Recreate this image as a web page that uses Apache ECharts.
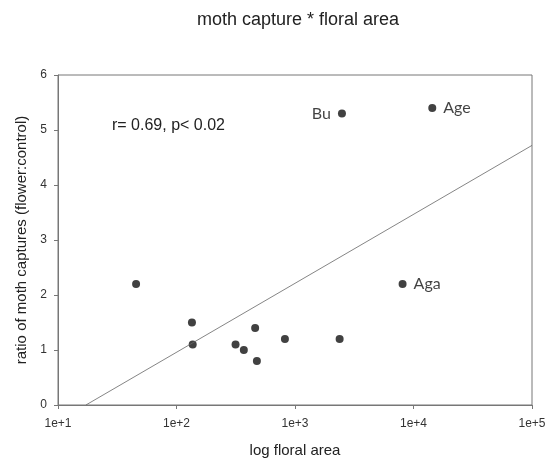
<!DOCTYPE html>
<html>
<head>
<meta charset="utf-8">
<script src="https://cdn.jsdelivr.net/npm/echarts@6/dist/echarts.min.js"></script>
<style>html,body{margin:0;padding:0;background:#fff}#c{width:557px;height:463px}</style>
</head>
<body>
<div id="c"></div>
<script>
const areas = [45.6, 135, 137, 315, 370, 461, 477, 822, 2380, 8090, 2490, 14400];
const ratios = [2.2, 1.5, 1.1, 1.1, 1.0, 1.4, 0.8, 1.2, 1.2, 2.2, 5.3, 5.4];
const names = ['', '', '', '', '', '', '', '', '', 'Aga', 'Bu', 'Age'];
const fitX = [17.2, 100000];
const fitY = [0, 4.72];
const yTicks = [0, 1, 2, 3, 4, 5, 6];

const chart = echarts.init(document.getElementById('c'));
const pts = areas.map((a, i) => ({
  value: [a, ratios[i]],
  label: {
    show: names[i] !== '',
    formatter: names[i],
    position: names[i] === 'Bu' ? 'left' : 'right',
    distance: 7,
    fontFamily: 'Lato',
    fontSize: 16,
    color: '#111'
  }
}));
chart.setOption({
  animation: false,
  title: {
    text: 'moth capture * floral area',
    left: 293, top: 6, textAlign: 'center',
    textStyle: {fontFamily: 'Liberation Sans', fontSize: 18, fontWeight: 'normal', color: '#222'}
  },
  graphic: [{
    type: 'text', left: 112, top: 118,
    style: {text: 'r= 0.69, p< 0.02', font: '16px "Liberation Sans"', fill: '#222'}
  }],
  grid: {left: 58, right: 25, top: 75, bottom: 57, show: true, borderColor: '#777', borderWidth: 1},
  xAxis: {
    type: 'log', logBase: 10, min: 10, max: 100000,
    name: 'log floral area', nameLocation: 'middle', nameGap: 38,
    nameTextStyle: {fontFamily: 'Liberation Sans', fontSize: 15, color: '#222'},
    axisLine: {lineStyle: {color: '#777'}},
    axisTick: {show: true, length: 4, lineStyle: {color: '#777'}},
    minorTick: {show: false},
    splitLine: {show: false},
    axisLabel: {
      fontFamily: 'Liberation Sans', fontSize: 12, color: '#333', margin: 13,
      formatter: v => '1e+' + Math.round(Math.log10(v))
    }
  },
  yAxis: {
    type: 'value', min: 0, max: 6, interval: 1,
    name: 'ratio of moth captures (flower:control)', nameLocation: 'middle', nameGap: 27,
    nameTextStyle: {fontFamily: 'Liberation Sans', fontSize: 15, color: '#222'},
    axisLine: {show: true, lineStyle: {color: '#777'}},
    axisTick: {show: true, length: 4, lineStyle: {color: '#777'}},
    splitLine: {show: false},
    axisLabel: {
      fontFamily: 'Liberation Sans', fontSize: 12, color: '#333', margin: 11,
      formatter: v => yTicks.includes(v) ? String(v) : ''
    }
  },
  series: [
    {
      type: 'line', data: fitX.map((x, i) => [x, fitY[i]]), symbol: 'none', silent: true,
      lineStyle: {color: '#666', width: 0.8}
    },
    {
      type: 'scatter', data: pts, symbol: 'circle', symbolSize: 8,
      itemStyle: {color: '#111'}
    }
  ]
});
</script>
</body>
</html>
